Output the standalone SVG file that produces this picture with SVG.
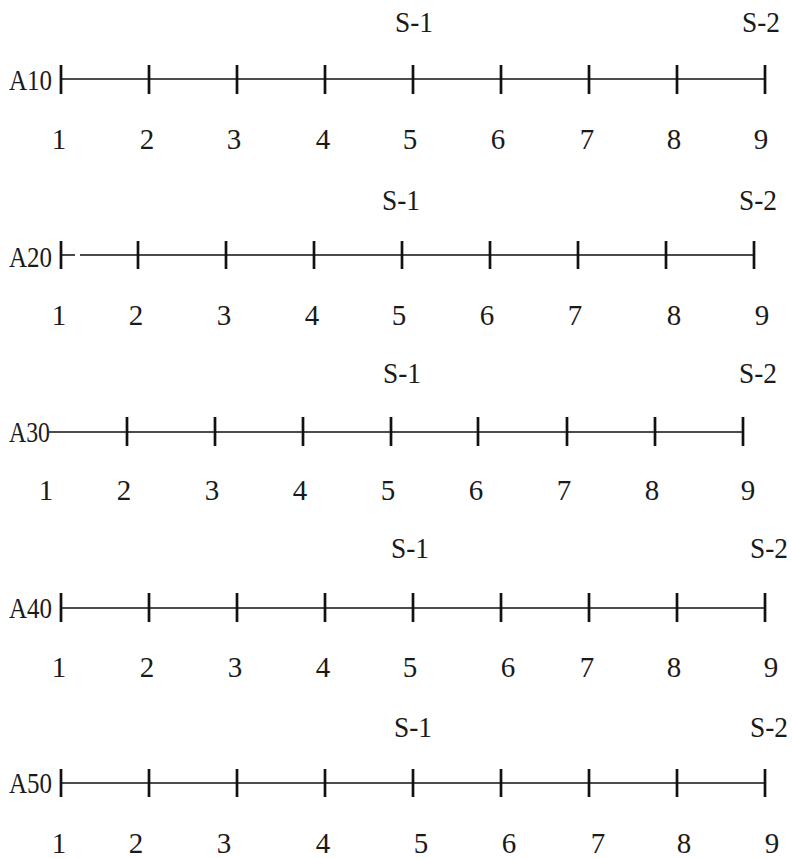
<svg xmlns="http://www.w3.org/2000/svg" width="792" height="858" viewBox="0 0 792 858">
<style>
text{font-family:"Liberation Serif","Times New Roman",serif;font-size:29px;fill:#1a1a1a}
.n{text-anchor:middle}
.ax{stroke:#111;stroke-width:1.7;fill:none}
.tk{stroke:#111;stroke-width:2.7}
</style>
<rect width="792" height="858" fill="#fff"/>
<g id="connectors">
<path class="ax" d="M61 79H765"/>
<path class="tk" d="M61 65V94M149 65V94M237 65V94M325 65V94M413 65V94M501 65V94M589 65V94M677 65V94M765 65V94"/>
<path class="ax" d="M61 255H75M80 255H754"/>
<path class="tk" d="M61 241V269M138 241V269M226 241V269M314 241V269M402 241V269M490 241V269M578 241V269M666 241V269M754 241V269"/>
<path class="ax" d="M49 432H743"/>
<path class="tk" d="M127 417V446M215 417V446M303 417V446M391 417V446M478 417V446M567 417V446M655 417V446M743 417V446"/>
<path class="ax" d="M61 608H765"/>
<path class="tk" d="M61 593V622M149 593V622M237 593V622M325 593V622M413 593V622M501 593V622M589 593V622M677 593V622M765 593V622"/>
<path class="ax" d="M61 783H765"/>
<path class="tk" d="M61 769V797M149 769V797M237 769V797M325 769V797M413 769V797M501 769V797M589 769V797M677 769V797M765 769V797"/>
</g>
<g id="row-A10">
<text x="9" y="90" textLength="43" lengthAdjust="spacingAndGlyphs">A10</text>
<text class="n" x="414" y="32" textLength="38" lengthAdjust="spacingAndGlyphs">S-1</text>
<text class="n" x="761" y="32" textLength="38" lengthAdjust="spacingAndGlyphs">S-2</text>
<text class="n" x="59" y="149">1</text><text class="n" x="147" y="149">2</text><text class="n" x="234" y="149">3</text><text class="n" x="323" y="149">4</text><text class="n" x="410" y="149">5</text><text class="n" x="498" y="149">6</text><text class="n" x="587" y="149">7</text><text class="n" x="674" y="149">8</text><text class="n" x="761" y="149">9</text>
</g>
<g id="row-A20">
<text x="9" y="267" textLength="43" lengthAdjust="spacingAndGlyphs">A20</text>
<text class="n" x="401" y="210" textLength="38" lengthAdjust="spacingAndGlyphs">S-1</text>
<text class="n" x="758" y="210" textLength="38" lengthAdjust="spacingAndGlyphs">S-2</text>
<text class="n" x="59" y="325">1</text><text class="n" x="136" y="325">2</text><text class="n" x="224" y="325">3</text><text class="n" x="312" y="325">4</text><text class="n" x="399" y="325">5</text><text class="n" x="487" y="325">6</text><text class="n" x="575" y="325">7</text><text class="n" x="674" y="325">8</text><text class="n" x="762" y="325">9</text>
</g>
<g id="row-A30">
<text x="9" y="442" textLength="41" lengthAdjust="spacingAndGlyphs">A30</text>
<text class="n" x="402" y="383" textLength="38" lengthAdjust="spacingAndGlyphs">S-1</text>
<text class="n" x="758" y="383" textLength="38" lengthAdjust="spacingAndGlyphs">S-2</text>
<text class="n" x="46" y="500">1</text><text class="n" x="124" y="500">2</text><text class="n" x="212" y="500">3</text><text class="n" x="300" y="500">4</text><text class="n" x="388" y="500">5</text><text class="n" x="476" y="500">6</text><text class="n" x="564" y="500">7</text><text class="n" x="652" y="500">8</text><text class="n" x="748" y="500">9</text>
</g>
<g id="row-A40">
<text x="9" y="618" textLength="43" lengthAdjust="spacingAndGlyphs">A40</text>
<text class="n" x="410" y="558" textLength="38" lengthAdjust="spacingAndGlyphs">S-1</text>
<text class="n" x="769" y="558" textLength="38" lengthAdjust="spacingAndGlyphs">S-2</text>
<text class="n" x="59" y="677">1</text><text class="n" x="147" y="677">2</text><text class="n" x="235" y="677">3</text><text class="n" x="323" y="677">4</text><text class="n" x="410" y="677">5</text><text class="n" x="508" y="677">6</text><text class="n" x="587" y="677">7</text><text class="n" x="674" y="677">8</text><text class="n" x="771" y="677">9</text>
</g>
<g id="row-A50">
<text x="9" y="793" textLength="43" lengthAdjust="spacingAndGlyphs">A50</text>
<text class="n" x="413" y="737" textLength="38" lengthAdjust="spacingAndGlyphs">S-1</text>
<text class="n" x="769" y="737" textLength="38" lengthAdjust="spacingAndGlyphs">S-2</text>
<text class="n" x="59" y="853">1</text><text class="n" x="136" y="853">2</text><text class="n" x="224" y="853">3</text><text class="n" x="323" y="853">4</text><text class="n" x="421" y="853">5</text><text class="n" x="509" y="853">6</text><text class="n" x="598" y="853">7</text><text class="n" x="684" y="853">8</text><text class="n" x="772" y="853">9</text>
</g>
</svg>
